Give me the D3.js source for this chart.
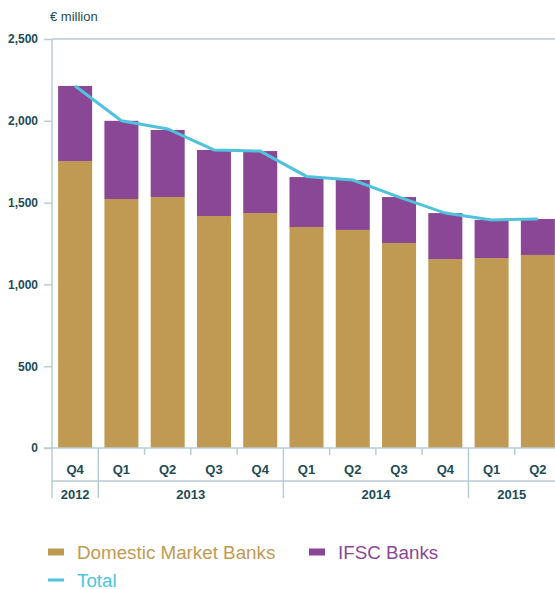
<!DOCTYPE html>
<html>
<head>
<meta charset="utf-8">
<script src="https://cdn.jsdelivr.net/npm/d3@7"></script>
<style>
  body { margin: 0; background: #fff; }
  svg { display: block; }
</style>
</head>
<body>
<script>
const width = 555
const height = 589

// data
const quarters = ['Q4', 'Q1', 'Q2', 'Q3', 'Q4', 'Q1', 'Q2', 'Q3', 'Q4', 'Q1', 'Q2']
const years = ['2012', '2013', '2013', '2013', '2013', '2014', '2014', '2014', '2014', '2015', '2015']
const domestic = [1754, 1522, 1534, 1418, 1436, 1351, 1333, 1253, 1155, 1161, 1180]
const ifsc = [459, 478, 410, 404, 379, 305, 305, 281, 281, 233, 220]
const total = [2213, 2000, 1950, 1822, 1815, 1660, 1638, 1534, 1436, 1394, 1400]
const yTicks = [0, 500, 1000, 1500, 2000, 2500]

const colDomestic = '#c09a52'
const colIfsc = '#8a4795'
const colTotal = '#4fc3dc'
const colAxis = '#b7cdd4'
const colText = '#1d4b57'

const margin = { left: 52, top: 39, bottom: 448 }

const x = d3.scaleBand()
  .domain(d3.range(quarters.length))
  .range([margin.left, 561])
  .paddingInner(0.265)
  .paddingOuter(0.1325)

const y = d3.scaleLinear()
  .domain([0, 2500])
  .range([margin.bottom, margin.top])

const svg = d3.select('body').append('svg')
  .attr('width', width)
  .attr('height', height)
  .style('font-family', 'Liberation Sans, Arial, sans-serif')

// unit label
svg.append('text')
  .attr('x', 50)
  .attr('y', 21)
  .attr('fill', colText)
  .style('font-size', '13px')
  .text('€ million')

// bars
const rows = quarters.map(function (q, i) {
  return { i: i, d: domestic[i], f: ifsc[i] }
})

svg.append('g').selectAll('rect')
  .data(rows)
  .enter().append('rect')
  .attr('x', function (d) { return x(d.i) })
  .attr('width', x.bandwidth())
  .attr('y', function (d) { return y(d.d) })
  .attr('height', function (d) { return y(0) - y(d.d) })
  .attr('fill', colDomestic)

svg.append('g').selectAll('rect')
  .data(rows)
  .enter().append('rect')
  .attr('x', function (d) { return x(d.i) })
  .attr('width', x.bandwidth())
  .attr('y', function (d) { return y(d.d + d.f) })
  .attr('height', function (d) { return y(d.d) - y(d.d + d.f) })
  .attr('fill', colIfsc)

// total line
const line = d3.line()
  .x(function (d, i) { return x(i) + x.bandwidth() / 2 })
  .y(function (d) { return y(d) })

svg.append('path')
  .datum(total)
  .attr('d', line)
  .attr('fill', 'none')
  .attr('stroke', colTotal)
  .attr('stroke-width', 3)

// y axis
const yAxis = d3.axisLeft(y)
  .tickValues(yTicks)
  .tickSize(8)
  .tickPadding(6)
  .tickFormat(d3.format(',d'))

const gy = svg.append('g')
  .attr('transform', 'translate(' + margin.left + ',0)')
  .call(yAxis)
gy.select('.domain').remove()
gy.selectAll('line').attr('stroke', colAxis).attr('stroke-width', 1.5)
gy.selectAll('text')
  .attr('fill', colText)
  .style('font-size', '12px')
  .style('font-weight', 'bold')

// vertical axis line and top rule
svg.append('line')
  .attr('x1', margin.left).attr('x2', margin.left)
  .attr('y1', margin.top).attr('y2', 498)
  .attr('stroke', colAxis).attr('stroke-width', 1.5)

svg.append('line')
  .attr('x1', margin.left).attr('x2', width)
  .attr('y1', y(2500)).attr('y2', y(2500))
  .attr('stroke', colAxis).attr('stroke-width', 1.5)

// x axis baseline and the row line between quarters and years
svg.append('line')
  .attr('x1', margin.left - 8).attr('x2', width)
  .attr('y1', y(0)).attr('y2', y(0))
  .attr('stroke', colAxis).attr('stroke-width', 1.5)

svg.append('line')
  .attr('x1', margin.left).attr('x2', width)
  .attr('y1', 481).attr('y2', 481)
  .attr('stroke', colAxis).attr('stroke-width', 1.5)

// separators between quarters: short ticks inside a year, full lines between years
const step = x.step()
const seps = d3.range(1, quarters.length)
svg.append('g').selectAll('line')
  .data(seps)
  .enter().append('line')
  .attr('x1', function (i) { return x(i) - (step - x.bandwidth()) / 2 })
  .attr('x2', function (i) { return x(i) - (step - x.bandwidth()) / 2 })
  .attr('y1', y(0))
  .attr('y2', function (i) { return years[i] !== years[i - 1] ? 498 : 455 })
  .attr('stroke', colAxis)
  .attr('stroke-width', 1.5)

// quarter labels
svg.append('g').selectAll('text')
  .data(quarters)
  .enter().append('text')
  .attr('x', function (d, i) { return x(i) + x.bandwidth() / 2 })
  .attr('y', 474)
  .attr('text-anchor', 'middle')
  .attr('fill', colText)
  .style('font-family', 'Liberation Sans Narrow, Arial Narrow, sans-serif')
  .style('font-size', '13px')
  .style('font-weight', 'bold')
  .text(function (d) { return d })

// year labels, centred on each group of quarters
const yearGroups = d3.groups(d3.range(years.length), function (i) { return years[i] })
svg.append('g').selectAll('text')
  .data(yearGroups)
  .enter().append('text')
  .attr('x', function (g) {
    const first = g[1][0]
    const last = g[1][g[1].length - 1]
    const left = first === 0 ? margin.left : x(first) - (step - x.bandwidth()) / 2
    const right = Math.min(width, x(last) + x.bandwidth() + (step - x.bandwidth()) / 2)
    return (left + right) / 2
  })
  .attr('y', 499)
  .attr('text-anchor', 'middle')
  .attr('fill', colText)
  .style('font-family', 'Liberation Sans Narrow, Arial Narrow, sans-serif')
  .style('font-size', '13px')
  .style('font-weight', 'bold')
  .text(function (g) { return g[0] })

// legend
const legend = [
  { name: 'Domestic Market Banks', color: colDomestic, x: 48, y: 552, h: 7 },
  { name: 'IFSC Banks', color: colIfsc, x: 309, y: 552, h: 7 },
  { name: 'Total', color: colTotal, x: 48, y: 580, h: 3 }
]

const lg = svg.append('g').selectAll('g')
  .data(legend)
  .enter().append('g')

lg.append('rect')
  .attr('x', function (d) { return d.x })
  .attr('y', function (d) { return d.y - d.h / 2 })
  .attr('width', 16)
  .attr('height', function (d) { return d.h })
  .attr('fill', function (d) { return d.color })

lg.append('text')
  .attr('x', function (d) { return d.x + 29 })
  .attr('y', function (d) { return d.y + 7 })
  .attr('fill', function (d) { return d.color })
  .style('font-size', '18.8px')
  .text(function (d) { return d.name })
</script>
</body>
</html>
